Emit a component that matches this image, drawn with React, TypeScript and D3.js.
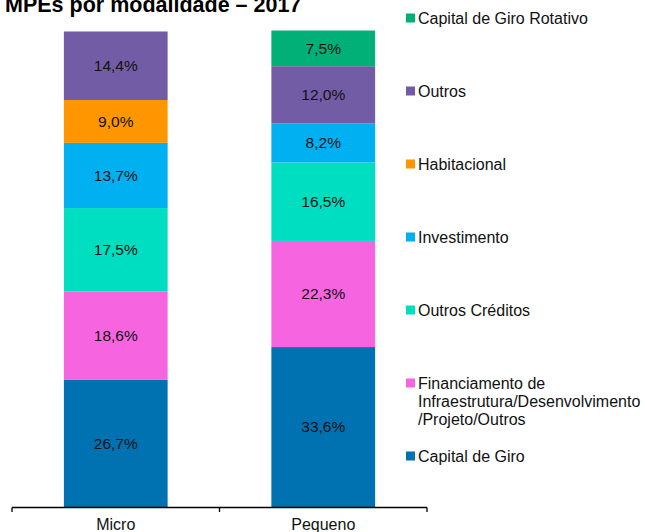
import React from "react";
import * as d3 from "d3";

const categories = ["Micro", "Pequeno"];
const seriesNames = [
  "Capital de Giro",
  "Financiamento de Infraestrutura/Desenvolvimento /Projeto/Outros",
  "Outros Créditos",
  "Investimento",
  "Habitacional",
  "Outros",
  "Capital de Giro Rotativo",
];
const legendLines = [
  ["Capital de Giro"],
  ["Financiamento de", "Infraestrutura/Desenvolvimento", "/Projeto/Outros"],
  ["Outros Créditos"],
  ["Investimento"],
  ["Habitacional"],
  ["Outros"],
  ["Capital de Giro Rotativo"],
];
const microValues = [26.7, 18.6, 17.5, 13.7, 9.0, 14.4, 0];
const pequenoValues = [33.6, 22.3, 16.5, 8.2, 0, 12.0, 7.5];
const colors = ["#0071B1", "#F764E0", "#00DEC1", "#00B0F0", "#FF9600", "#735CA6", "#00B077"];
const title = "MPEs por modalidade – 2017";

const W = 645;
const H = 532;
const FONT = "'Liberation Sans', Arial, sans-serif";

export default function App() {
  const x = d3.scaleBand().domain(categories).range([12, 427]).paddingInner(0).paddingOuter(0);
  const y = d3.scaleLinear().domain([0, 100]).range([507, 31]);
  const rows = categories.map((c, i) => {
    const vals = i === 0 ? microValues : pequenoValues;
    const r: any = { cat: c };
    seriesNames.forEach((s, j) => (r[s] = vals[j]));
    return r;
  });
  const stacked = d3.stack<any>().keys(seriesNames)(rows);
  const bw = x.bandwidth() * 0.5;
  const legendY = d3.scaleLinear().domain([0, 6]).range([18, 456]);
  const fmt = (v: number) => v.toFixed(1).replace(".", ",") + "%";

  return (
    <svg width={W} height={H} style={{ position: "absolute", left: 0, top: 0 }} fontFamily={FONT}>
      <text x={5} y={12} fontSize={21.5} fontWeight="bold" fill="#000">{title}</text>
      {stacked.map((layer, j) => (
        <g key={j}>
          {layer.map((d, i) => {
            const v = d[1] - d[0];
            if (v <= 0) return null;
            const bx = (x(categories[i]) as number) + (x.bandwidth() - bw) / 2;
            const y0 = y(d[1]);
            const h = y(d[0]) - y(d[1]);
            return (
              <g key={i}>
                <rect x={bx} y={y0} width={bw} height={h} fill={colors[j]} />
                <text
                  x={bx + bw / 2}
                  y={y0 + h / 2}
                  dy="0.35em"
                  textAnchor="middle"
                  fontSize={15.5}
                  fill="#111"
                >
                  {fmt(v)}
                </text>
              </g>
            );
          })}
        </g>
      ))}
      <g stroke="#000" strokeWidth={1.3}>
        <line x1={12} x2={427} y1={507.5} y2={507.5} />
        {[12, 219.5, 427].map((t, i) => (
          <line key={i} x1={t} x2={t} y1={507.5} y2={512} />
        ))}
      </g>
      {categories.map((c) => (
        <text key={c} x={(x(c) as number) + x.bandwidth() / 2} y={530} textAnchor="middle" fontSize={16} fill="#111">
          {c}
        </text>
      ))}
      {seriesNames.map((s, j) => {
        const idx = seriesNames.length - 1 - j;
        const cy = legendY(idx);
        return (
          <g key={s}>
            <rect x={406} y={cy - 4.5} width={9} height={9} fill={colors[j]} />
            {legendLines[j].map((ln, k) => (
              <text key={k} x={418} y={cy + k * 18} dy="0.35em" fontSize={16} fill="#111">
                {ln}
              </text>
            ))}
          </g>
        );
      })}
    </svg>
  );
}
